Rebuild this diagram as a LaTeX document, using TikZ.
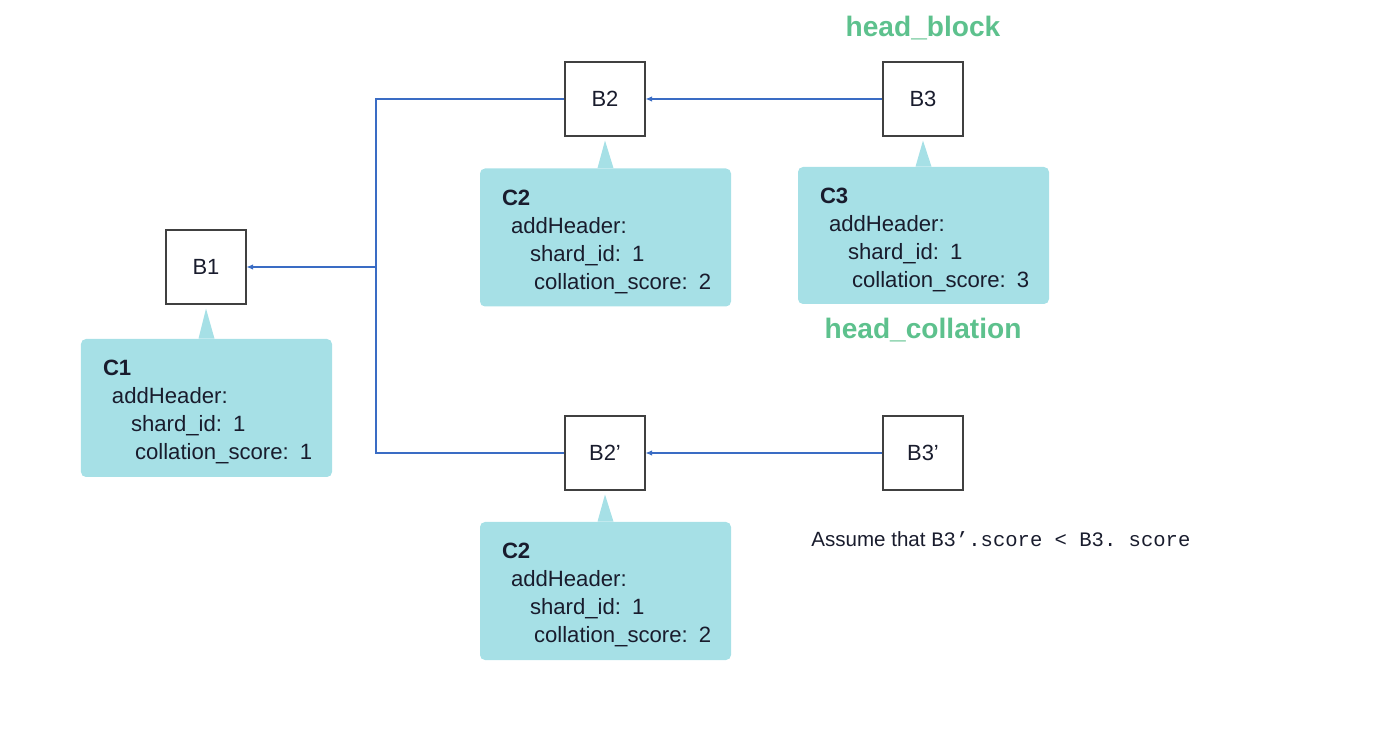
\documentclass[tikz,border=0pt]{standalone}
\usepackage{fontspec}
\setmainfont{Liberation Sans}
\setmonofont{Liberation Mono}
\usetikzlibrary{arrows.meta}
\definecolor{calloutblue}{RGB}{166,224,230}
\definecolor{linkblue}{RGB}{58,108,196}
\definecolor{headgreen}{RGB}{93,193,141}
\definecolor{inkdark}{RGB}{25,28,45}
\tikzset{
  blockbox/.style={draw=black!75, line width=0.6pt, minimum width=16mm, minimum height=14.8mm, font=\fontsize{12.5}{14}\selectfont, text=inkdark},
  collbox/.style={fill=calloutblue, rounded corners=1mm, text width=41.4mm, inner xsep=4.4mm, minimum height=27.6mm, align=left, font=\fontsize{12.6}{15.9}\selectfont, text=inkdark},
  link/.style={linkblue, line width=0.6pt},
  headlabel/.style={headgreen, font=\fontsize{16}{18}\selectfont\bfseries}
}
% pointer of a callout: #1 callout, #2 block
\newcommand{\pointer}[2]{\fill[calloutblue] ([xshift=-1.6mm]#1.north) -- ([yshift=-0.8mm]#2.south) -- ([xshift=1.6mm]#1.north) -- cycle;}
% text of a collation
\newcommand{\colltext}[2]{\mbox{\rule{0pt}{13.6pt}\textbf{#1}}\\\mbox{\hspace*{1.8mm}addHeader:}\\\mbox{\hspace*{5.6mm}shard\_id: 1}\\\mbox{\hspace*{6.4mm}collation\_score: #2}}
\begin{document}
\begin{tikzpicture}[x=0.2mm, y=-0.2mm]
\useasboundingbox (0,0) rectangle (1400,739);

% Blocks
\node[blockbox] (b1) at (206,267) {B1};
\node[blockbox] (b2) at (605,99) {B2};
\node[blockbox] (b3) at (923,99) {B3};
\node[blockbox] (b2p) at (605,453) {B2’};
\node[blockbox] (b3p) at (923,453) {B3’};

% Links to parents
\coordinate (fork) at (376,267);
\draw[link, -{Latex[length=1.3mm,width=1.1mm]}] (b3.west) -- (b2.east);
\draw[link, -{Latex[length=1.3mm,width=1.1mm]}] (b3p.west) -- (b2p.east);
\draw[link] (b2.west) -| (fork);
\draw[link] (b2p.west) -| (fork);
\draw[link, -{Latex[length=1.3mm,width=1.1mm]}] (fork) -- (b1.east);

% Collations
\node[collbox] (c1) at (206.5,408) {\colltext{C1}{1}};
\node[collbox] (c2) at (605.5,237.5) {\colltext{C2}{2}};
\node[collbox, minimum height=27.4mm] (c3) at (923.5,235.5) {\colltext{C3}{3}};
\node[collbox] (c2p) at (605.5,591) {\colltext{C2}{2}};
\pointer{c1}{b1}
\pointer{c2}{b2}
\pointer{c3}{b3}
\pointer{c2p}{b2p}

% Heads
\node[headlabel] (headblock) at (923,28) {head\_block};
\node[headlabel] (headcoll) at (923,330) {head\_collation};

% Note
\node[anchor=west, inner sep=0pt, text=inkdark, font=\fontsize{11.7}{14}\selectfont] (note) at (811,539) {Assume that \texttt{B3’.score < B3. score}};

\end{tikzpicture}
\end{document}
